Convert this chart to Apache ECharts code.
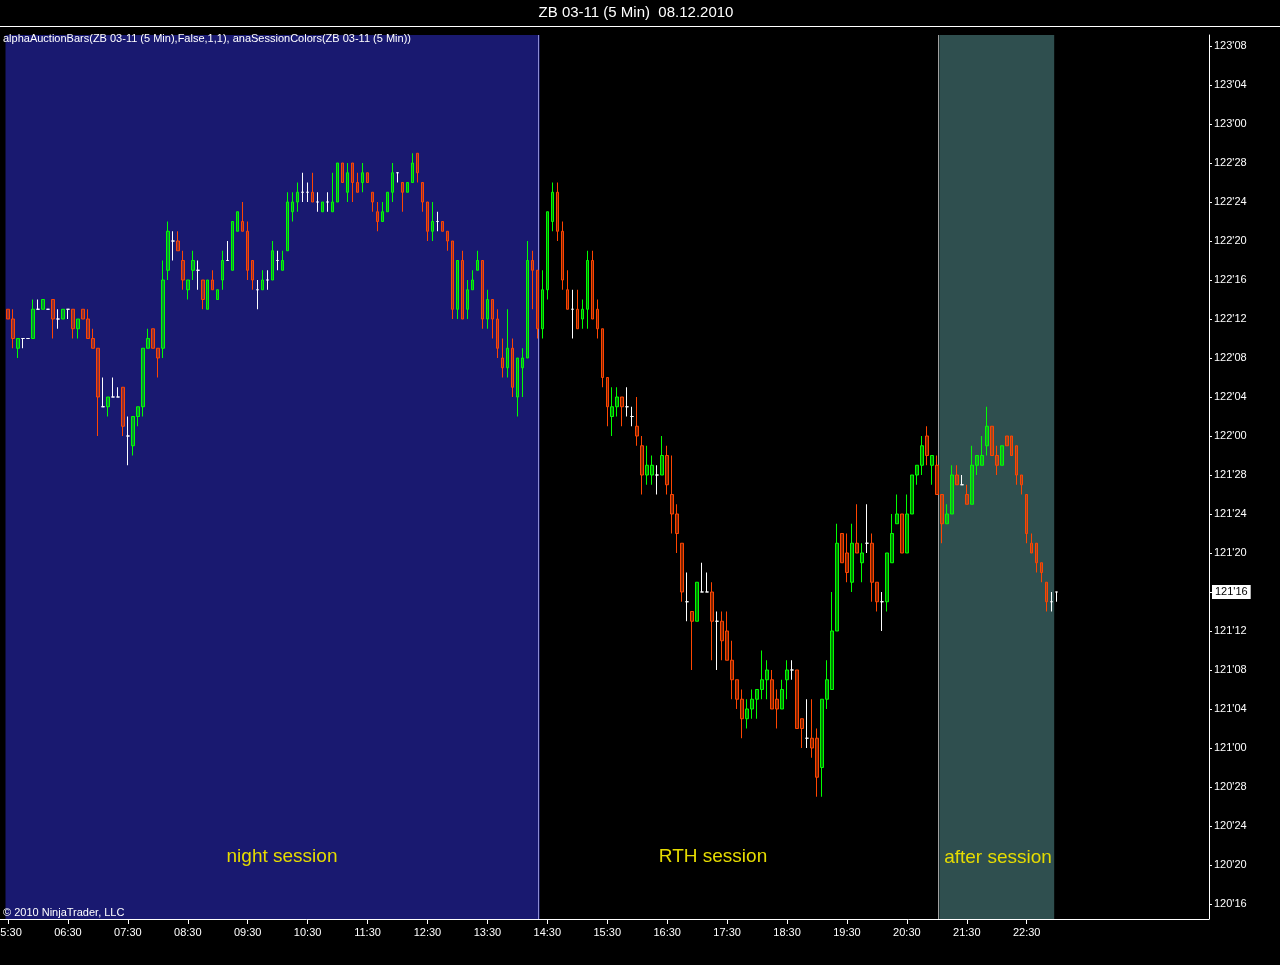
<!DOCTYPE html>
<html><head><meta charset="utf-8">
<script src="https://cdn.jsdelivr.net/npm/echarts@6/dist/echarts.min.js"></script>
<style>html,body{margin:0;padding:0;background:#000;overflow:hidden}#c{width:1280px;height:965px}</style>
</head><body><div id="c"></div>
<script>
// ZB 03-11, 5-minute bars. Prices are in 32nds above the 120'00 handle (e.g. 76 = 122'12).
const openP = [
77,76,73,74,74,74,77,77,77,78, 76,76,77,77,75,77,76,74,73,67,
67,68,68,69,64,63,66,67,73,75, 73,73,81,84,84,82,79,81,81,80,
77,80,78,80,82,81,85,86,85,82, 79,79,80,80,82,81,83,87,88,89,
89,89,88,87,88,87,88,92,89,92, 90,90,91,89,87,86,87,89,91,90,
89,90,93,90,88,85,86,86,85,84, 77,82,77,79,81,82,76,78,76,72,
71,73,68,71,72,82,81,75,79,86, 89,85,79,77,77,76,77,82,77,75,
70,66,67,68,67,66,65,63,60,60, 60,60,62,58,56,53,47,46,45,48,
48,48,45,45,44,41,39,37,35,36, 37,38,39,39,37,36,39,40,40,35,
33,33,33,30,37,38,44,54,52,49, 53,51,53,53,49,47,47,51,55,56,
52,56,60,61,64,61,61,58,55,56, 60,59,58,57,61,61,63,65,62,61,
64,64,63,60,58,53,53,51,49,47, 48];
const highP = [
77,77,74,74,74,78,78,78,77,78, 77,77,77,77,76,77,77,75,73,70,
68,70,69,69,66,66,67,73,75,75, 73,82,86,85,85,83,80,83,82,80,
80,81,79,83,84,86,87,88,86,82, 80,81,81,84,83,83,89,89,90,91,
90,91,89,88,89,91,92,92,92,92, 91,92,91,89,88,88,89,92,91,90,
90,93,93,90,88,88,87,86,85,84, 82,83,80,81,83,82,79,78,77,74,
77,74,72,73,84,83,81,81,87,90, 90,86,81,79,79,78,83,83,78,75,
70,69,69,68,69,67,68,64,63,62, 61,64,63,62,57,53,50,46,49,51,
50,49,46,46,46,43,39,38,37,38, 38,42,41,40,38,39,41,41,40,35,
37,37,34,37,41,48,55,54,54,55, 57,53,57,54,49,48,52,56,58,56,
58,60,61,64,65,62,62,58,57,61, 61,60,59,63,62,64,67,65,63,63,
64,64,63,60,58,54,53,51,49,48, 48];
const lowP = [
76,73,72,73,74,74,77,77,77,74, 75,76,76,74,74,76,74,73,64,67,
66,68,68,64,61,62,65,66,73,73, 70,72,80,82,83,79,78,80,79,77,
77,79,78,79,82,81,85,85,80,79, 77,79,79,80,81,81,83,86,87,88,
88,88,87,87,87,87,88,90,88,88, 89,89,90,87,85,86,87,88,90,87,
89,90,90,87,84,84,85,85,83,76, 76,76,76,79,81,75,75,74,72,70,
70,68,66,68,72,77,74,74,78,85, 84,79,77,74,75,75,75,76,74,69,
65,64,66,65,66,65,63,58,59,59, 58,60,58,54,52,47,45,40,45,48,
48,41,40,41,41,37,36,33,34,35, 35,37,37,36,34,36,37,39,34,32,
32,31,27,27,36,38,44,51,49,48, 52,49,52,47,46,44,46,51,55,52,
52,56,59,60,61,59,58,53,55,56, 59,59,57,57,60,61,62,62,60,61,
63,62,59,58,53,52,50,49,46,46, 47];
const closeP = [
76,74,74,74,74,77,77,78,77,76, 76,77,77,75,76,76,74,73,68,67,
68,68,68,65,64,66,67,73,74,73, 72,80,85,84,83,80,80,82,81,78,
80,79,79,82,82,86,87,85,81,80, 79,80,80,83,82,82,88,88,89,89,
89,88,88,88,88,88,92,90,91,90, 89,91,90,88,86,87,89,91,91,89,
90,92,91,88,85,86,86,85,84,77, 82,76,79,80,82,76,78,76,73,71,
73,69,72,72,82,81,75,79,87,89, 85,80,77,77,75,77,82,76,75,70,
67,67,68,67,67,66,64,60,61,61, 60,62,59,56,54,48,47,45,49,48,
48,45,45,43,41,39,37,35,36,37, 38,39,40,36,36,38,40,40,34,34,
33,32,29,37,39,44,53,51,50,53, 52,52,53,49,47,47,52,54,56,52,
56,60,61,63,62,62,58,55,56,60, 59,59,57,61,62,62,65,62,61,63,
63,62,60,59,54,52,51,50,47,47, 48];

const handle = 120;               // price handle for the 32nds above
const firstBar = '05:30';         // time of the first slot
const barMinutes = 5;
const slotCount = 241;            // slots across the price panel (incl. empty right margin)
const labelEvery = 12;            // one time label per hour
const priceTicks = [16,20,24,28,32,36,40,44,48,52,56,60,64,68,72,76,80,84,88,92,96,100,104];
const sessionNames = ['night session', 'RTH session', 'after session'];
const sessionFirst = ['05:30', '14:25', '21:05'];
const sessionLast  = ['14:20', '21:00', '22:55'];

// ---- styling ----
const FONT = '"Liberation Sans", Arial, sans-serif';
const sessionFill = ['#191970', '#000000', '#2f4f4f'];
const sessionEdge = ['#8c8cd4', '#a0a0a0', null];
const UP = '#00ff00', DOWN = '#ff4500';

// time slots
const [h0, m0] = firstBar.split(':').map(Number);
const times = [];
for (let i = 0; i < slotCount; i++) {
  const t = h0 * 60 + m0 + i * barMinutes;
  times.push(String(Math.floor(t / 60) % 24).padStart(2, '0') + ':' + String(t % 60).padStart(2, '0'));
}
const fmt32 = v => {
  const r = Math.round(v);
  return (handle + Math.floor(r / 32)) + "'" + String(r % 32).padStart(2, '0');
};
const nBars = openP.length;
const showSlot = i => i % labelEvery === 0 && i < nBars;

const sessionData = sessionNames.map((n, k) => [times.indexOf(sessionFirst[k]), times.indexOf(sessionLast[k]), k]);

function renderSession(params, api) {
  const k = api.value(2);
  const a = api.coord([api.value(0), 60])[0];
  const b = api.coord([api.value(1), 60])[0];
  const w = api.size([1, 0])[0];
  const cs = params.coordSys;
  const x0 = a - w / 2, x1 = b + w / 2;
  const children = [{
    type: 'rect', shape: { x: x0, y: cs.y, width: x1 - x0, height: cs.height },
    style: { fill: sessionFill[k] }
  }];
  if (sessionEdge[k]) {
    const xe = Math.round(x1 - 1.5) + 0.5;
    children.push({ type: 'line', shape: { x1: xe, y1: cs.y, x2: xe, y2: cs.y + cs.height },
      style: { stroke: sessionEdge[k], lineWidth: 1 } });
  }
  return { type: 'group', children };
}

const chart = echarts.init(document.getElementById('c'), null, { renderer: 'canvas' });
chart.setOption({
  backgroundColor: '#000',
  animation: false,
  textStyle: { fontFamily: FONT },
  grid: { left: 5.5, right: 71, top: 35, bottom: 46, containLabel: false, outerBoundsMode: 'none' },
  xAxis: {
    type: 'category', data: times, boundaryGap: true,
    axisLine: { show: true, lineStyle: { color: '#fff', width: 1 } },
    axisTick: { show: true, interval: showSlot, alignWithLabel: true, length: 5, lineStyle: { color: '#fff' } },
    axisLabel: { interval: showSlot, color: '#fff', fontSize: 11, fontFamily: FONT, margin: 8 },
    splitLine: { show: false }
  },
  yAxis: {
    type: 'value', position: 'right', min: 14.46, max: 105.13, scale: true,
    splitLine: { show: false },
    axisLine: { show: true, lineStyle: { color: '#fff', width: 1 } },
    axisTick: { show: true, length: 3, customValues: priceTicks, lineStyle: { color: '#fff' } },
    axisLabel: { customValues: priceTicks, formatter: fmt32, color: '#fff', fontSize: 11, fontFamily: FONT, margin: 5 }
  },
  series: [
    {
      type: 'custom', renderItem: renderSession, data: sessionData,
      encode: { x: [0, 1], y: 2 }, silent: true, z: 1, clip: true
    },
    {
      type: 'candlestick', z: 3, barWidth: 3,
      data: openP.map((o, i) => [o, closeP[i], lowP[i], highP[i]]),
      itemStyle: {
        color: 'rgba(0,255,0,0.5)', color0: 'rgba(255,69,0,0.5)',
        borderColor: UP, borderColor0: DOWN, borderColorDoji: '#ffffff', borderWidth: 1
      },
      markLine: {
        silent: true, symbol: ['none', 'none'], animation: false,
        lineStyle: { color: 'rgba(0,0,0,0)', width: 0, type: 'solid' },
        label: {
          show: true, position: 'end', distance: 3, formatter: () => fmt32(closeP[nBars - 1]),
          backgroundColor: '#fff', color: '#000', fontSize: 11, fontFamily: FONT, padding: [2, 3, 1, 3]
        },
        data: [{ yAxis: closeP[nBars - 1] }]
      }
    }
  ],
  graphic: [
    { type: 'line', z: 50, shape: { x1: 0, y1: 26.5, x2: 1280, y2: 26.5 }, style: { stroke: '#fff', lineWidth: 1 } },
    { type: 'line', z: 50, shape: { x1: 0, y1: 919.5, x2: 6, y2: 919.5 }, style: { stroke: '#fff', lineWidth: 1 } },
    { type: 'text', z: 50, x: 636, y: 13, style: { text: 'ZB 03-11 (5 Min)  08.12.2010', fill: '#fff', fontSize: 15, fontFamily: FONT, align: 'center', verticalAlign: 'middle' } },
    { type: 'text', z: 50, x: 3, y: 39, style: { text: 'alphaAuctionBars(ZB 03-11 (5 Min),False,1,1), anaSessionColors(ZB 03-11 (5 Min))', fill: '#fff', fontSize: 11, fontFamily: FONT, align: 'left', verticalAlign: 'middle' } },
    { type: 'text', z: 50, x: 3, y: 913, style: { text: '© 2010 NinjaTrader, LLC', fill: '#fff', fontSize: 11, fontFamily: FONT, align: 'left', verticalAlign: 'middle' } },
    { type: 'text', z: 50, x: 282, y: 857, style: { text: sessionNames[0], fill: '#e6dc00', fontSize: 19, fontFamily: FONT, align: 'center', verticalAlign: 'middle' } },
    { type: 'text', z: 50, x: 713, y: 857, style: { text: sessionNames[1], fill: '#e6dc00', fontSize: 19, fontFamily: FONT, align: 'center', verticalAlign: 'middle' } },
    { type: 'text', z: 50, x: 998, y: 858, style: { text: sessionNames[2], fill: '#e6dc00', fontSize: 19, fontFamily: FONT, align: 'center', verticalAlign: 'middle' } }
  ]
});
</script>
</body></html>
